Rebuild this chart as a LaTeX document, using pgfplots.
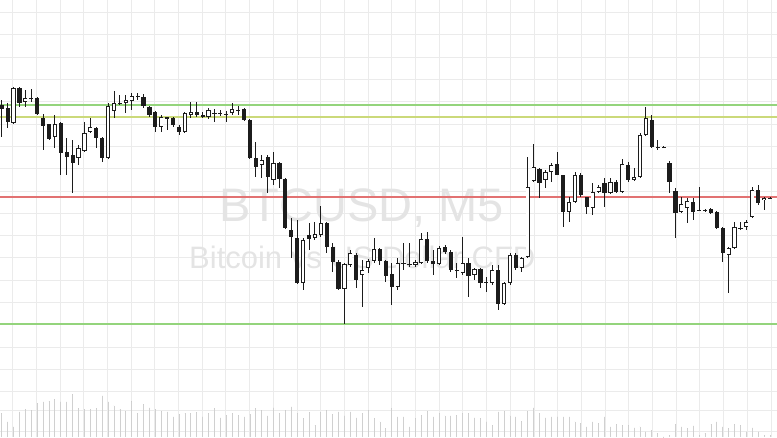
\documentclass[border=0pt]{standalone}
\usepackage{pgfplots}
\usepackage{pgfplotstable}
\usepackage{fontspec}
\setmainfont{Liberation Sans}
\pgfplotsset{compat=1.18}
\definecolor{gridc}{HTML}{EBEBEB}
\definecolor{wmark}{HTML}{E4E4E4}
\definecolor{greenl}{HTML}{94D47C}
\definecolor{olivel}{HTML}{CBD97A}
\definecolor{redl}{HTML}{E27272}
\definecolor{volc}{HTML}{D0D0D0}
\definecolor{candle}{HTML}{1C1C1C}
\pgfplotsset{errline/.style={only marks, mark=*, mark size=0pt, mark options={draw=none, fill=none},
  error bars/.cd, y dir=plus, y explicit, error mark=none}}
% i = candle index, o h l c = open/high/low/close read as pixel rows (top = 0), v = volume height
\pgfplotstableread{
i o h l c v
0 105 100 137 109 23.7
1 108 103 128 122 15.3
2 123 87 124 88 10.3
3 88 87 107 103 25.3
4 102 90 107 98 28
5 98 89 102 98 27
6 98 97 115 114 33.7
7 118 114 150 126 35.3
8 124 124 140 139 36
9 137 115 148 124 38
10 123 122 175 153 35.3
11 152 138 175 157 35.3
12 155 140 193 163 42.7
13 158 145 165 148 28.7
14 151 122 152 133 28
15 132 118 133 127 28
16 128 127 148 138 28.7
17 138 137 162 158 41.3
18 158 103 159 106 35.3
19 111 91 118 103 31.3
20 103 95 105 103 28
21 103 95 113 100 26
22 101 93 110 96 36
23 96 93 100 97 23.7
24 97 94 108 106 32.7
25 107 106 117 115 29.3
26 112 111 132 127 28
27 127 115 132 117 26
28 117 117 130 119 25.3
29 118 117 127 125 20.3
30 127 125 135 132 22.7
31 132 112 133 113 23.7
32 115 102 118 112 23.7
33 112 102 117 115 24.7
34 115 112 118 117 20.3
35 117 108 119 110 23.7
36 113 109 122 113 28.7
37 113 110 116 113 19.3
38 114 111 122 114 22
39 113 103 115 109 23.7
40 110 106 115 110 22
41 109 108 121 120 20.3
42 120 119 159 158 22.7
43 158 142 177 167 28.7
44 165 155 178 160 27
45 157 155 193 177 21.3
46 180 152 185 163 29.3
47 163 162 188 179 23.7
48 179 178 229 228 27
49 230 218 258 237 30.3
50 238 220 284 283 23.7
51 283 238 290 240 18.7
52 235 223 250 239 24.7
53 238 222 240 234 12
54 235 206 237 223 24.7
55 223 222 253 247 27
56 247 243 272 262 22.7
57 262 260 290 289 25.3
58 289 263 324 264 21.3
59 265 250 267 253 25.3
60 255 253 288 280 19.3
61 275 260 307 270 23.7
62 268 259 273 261 27
63 261 238 263 249 18.7
64 249 248 265 261 15.3
65 261 260 282 276 8.7
66 274 263 305 287 28.7
67 287 258 290 263 20.3
68 263 243 270 263 20.3
69 264 243 267 264 10.3
70 265 260 267 262 18.7
71 263 233 264 239 22
72 239 232 263 261 26
73 261 250 275 264 20.3
74 264 246 265 248 23.7
75 247 245 254 252 21.3
76 252 250 272 270 21.3
77 270 263 278 270 22
78 273 237 275 263 23.7
79 263 258 297 276 23.7
80 275 268 280 269 19.3
81 269 268 288 283 18.7
82 282 277 292 282 15.3
83 283 265 285 270 12
84 270 265 310 304 25.3
85 304 282 305 283 26
86 283 253 285 255 21.3
87 255 253 270 268 20.3
88 268 257 272 258 16
89 257 157 258 187 26
90 181 144 182 167 29.3
91 169 168 198 183 23.7
92 180 170 188 172 19.3
93 172 163 182 165 20.3
94 164 152 175 175 20.3
95 175 175 227 212 20.3
96 212 197 222 202 20.3
97 202 172 203 175 15.3
98 175 173 197 195 13.7
99 197 197 214 207 10.3
100 208 183 215 192 15.3
101 192 185 193 187 13.7
102 183 178 207 193 20.3
103 193 178 194 182 10.3
104 182 180 193 192 12.7
105 192 159 193 164 12
106 165 162 182 180 12
107 180 168 181 177 9.3
108 177 133 178 135 10.3
109 135 107 136 118 5.3
110 120 115 148 147 7
111 147 140 150 147 3.7
112 147 146 148 147 0.3
113 163 161 193 182 2
114 191 188 238 213 12.7
115 212 197 213 204 10.3
116 208 198 223 201 8.7
117 202 198 220 212 11.3
118 210 187 211 210 2
119 210 209 212 210 3.7
120 209 208 214 213 12.7
121 212 211 229 228 15.3
122 228 227 262 253 10.3
123 255 247 293 248 8.7
124 248 222 249 227 12.7
125 228 222 230 228 12
126 227 220 230 222 5.3
127 217 187 218 190 9.3
128 190 185 205 203 5.3
129 200 197 210 198 2
130 198 197 199 198 2
}\candles
\begin{document}
\begin{tikzpicture}
\begin{axis}[
  scale only axis, width=777pt, height=437pt,
  xmin=0, xmax=777, ymin=0, ymax=437, y dir=reverse,
  axis line style={draw=none},
  major tick length=0pt,
  xtick={12.5,36.2,...,780}, ytick={12.5,34.8,...,392,410.5,431.5},
  xticklabels={}, yticklabels={},
  grid=major, major grid style={gridc, line width=0.8pt},
  clip=true,
]
% watermark
\node[anchor=base west, inner sep=0pt, text=wmark, font=\fontsize{47}{47}\selectfont] at (axis cs:219,221) {BTCUSD, M5};
\node[anchor=base west, inner sep=0pt, text=wmark, font=\fontsize{31}{31}\selectfont] at (axis cs:189,268) {Bitcoin vs US Dollar CFD};
% level lines
\addplot[greenl, line width=1.1pt] coordinates {(0,105) (777,105)};
\addplot[olivel, line width=1.1pt] coordinates {(0,117) (777,117)};
\addplot[redl, line width=1.1pt] coordinates {(0,197) (777,197)};
\addplot[greenl, line width=1.1pt] coordinates {(0,324) (777,324)};
% volume
\addplot[errline, error bar style={volc, line width=0.8pt}]
  table[x expr=1.7+5.91*\thisrow{i}, y expr=437-\thisrow{v}, y error expr=\thisrow{v}] {\candles};
% wicks
\addplot[errline, error bar style={candle, line width=0.9pt}]
  table[x expr=1.7+5.91*\thisrow{i}, y=h, y error expr=\thisrow{l}-\thisrow{h}] {\candles};
% bodies (outline / bear fill)
\addplot[errline, error bar style={candle, line width=4.2pt}]
  table[x expr=1.7+5.91*\thisrow{i}, y expr={min(\thisrow{o},\thisrow{c})},
        y error expr={max(abs(\thisrow{c}-\thisrow{o}),1.2)}] {\candles};
% bull interior
\addplot[errline, error bar style={white, line width=2.6pt}]
  table[x expr=1.7+5.91*\thisrow{i},
        y expr={\thisrow{c}<\thisrow{o}-1.5 ? \thisrow{c}+0.8 : nan},
        y error expr={\thisrow{o}-\thisrow{c}-1.6}] {\candles};
\end{axis}
\pgfresetboundingbox
\useasboundingbox (current axis.south west) rectangle (current axis.north east);
\end{tikzpicture}
\end{document}
